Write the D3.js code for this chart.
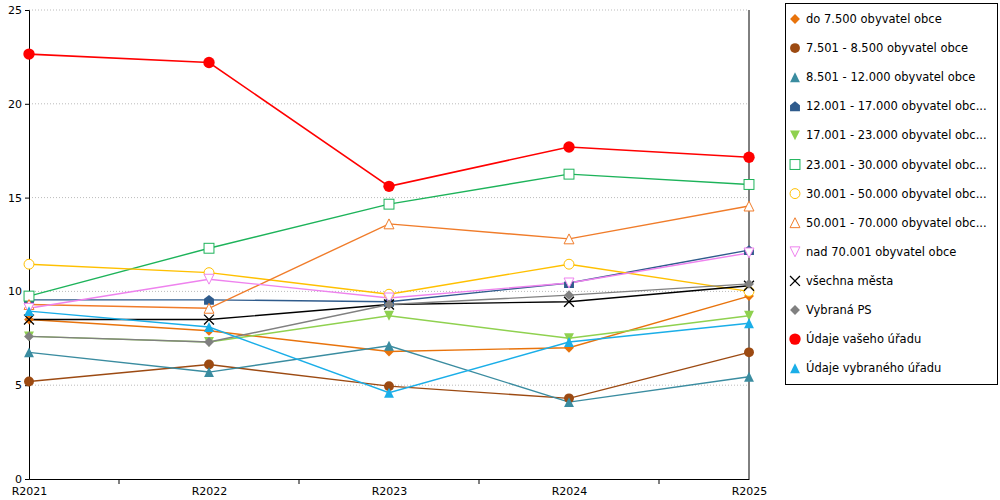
<!DOCTYPE html>
<html><head><meta charset="utf-8">
<script src="https://cdn.jsdelivr.net/npm/d3@7"></script>
<style>body{margin:0;background:#fff;font-family:"DejaVu Sans",sans-serif;}</style>
</head><body><svg id="c" width="1000" height="500"></svg>
<script>
var years = ['R2021', 'R2022', 'R2023', 'R2024', 'R2025'];
var names = ['do 7.500 obyvatel obce', '7.501 - 8.500 obyvatel obce', '8.501 - 12.000 obyvatel obce',
  '12.001 - 17.000 obyvatel obc...', '17.001 - 23.000 obyvatel obc...', '23.001 - 30.000 obyvatel obc...',
  '30.001 - 50.000 obyvatel obc...', '50.001 - 70.000 obyvatel obc...', 'nad 70.001 obyvatel obce',
  'všechna města', 'Vybraná PS', 'Údaje vašeho úřadu', 'Údaje vybraného úřadu'];
var colors = ['#e8730c', '#9c4a12', '#3a8ca0', '#2f5b8c', '#8fd14f', '#1db35a', '#ffc000', '#f07c2a',
  '#ee82ee', '#000000', '#808080', '#ff0000', '#1aaee8'];
var symbols = ['diamond', 'circle', 'triangle', 'house', 'tridown', 'square', 'ocircle', 'otriangle',
  'otridown', 'x', 'diamond', 'bigcircle', 'triangle'];
var values = [
  [8.5, 7.9, 6.8, 7.0, 9.75],
  [5.2, 6.1, 4.95, 4.3, 6.75],
  [6.75, 5.7, 7.1, 4.1, 5.45],
  [9.55, 9.55, 9.45, 10.45, 12.2],
  [7.6, 7.3, 8.7, 7.5, 8.7],
  [9.75, 12.3, 14.65, 16.25, 15.7],
  [11.45, 11.0, 9.85, 11.45, 10.0],
  [9.3, 9.1, 13.6, 12.8, 14.55],
  [9.1, 10.65, 9.65, 10.45, 12.05],
  [8.5, 8.5, 9.3, 9.45, 10.3],
  [7.6, 7.3, 9.3, 9.8, 10.4],
  [22.65, 22.2, 15.6, 17.7, 17.15],
  [8.95, 8.1, 4.6, 7.3, 8.3]
];
var yTicks = [0, 5, 10, 15, 20, 25];

var svg = d3.select('#c');
var x = d3.scalePoint().domain(years).range([29, 749]);
var y = d3.scaleLinear().domain([0, 25]).range([479, 10]);

// grid
svg.selectAll('.grid').data(yTicks.slice(1)).enter().append('line')
  .attr('x1', 29).attr('x2', 749).attr('y1', y).attr('y2', y)
  .attr('stroke', '#bbb').attr('stroke-dasharray', '1,2');

var yAxis = svg.append('g').attr('transform', 'translate(29,0)')
  .call(d3.axisLeft(y).tickValues(yTicks).tickSize(4));
var xAxis = svg.append('g').attr('transform', 'translate(0,479)')
  .call(d3.axisBottom(x).tickSize(0).tickPadding(8));
[yAxis, xAxis].forEach(function(a) {
  a.selectAll('text').attr('font-size', 11).attr('font-family', 'DejaVu Sans').attr('fill', '#000');
  a.select('.domain').attr('stroke', '#000');
});
// midpoint ticks on x
var mids = years.slice(1).map(function(d, i) { return (x(d) + x(years[i])) / 2; });
svg.selectAll('.mt').data(mids).enter().append('line')
  .attr('x1', function(d) { return d; }).attr('x2', function(d) { return d; })
  .attr('y1', 479).attr('y2', 484).attr('stroke', '#000');
svg.append('line').attr('x1', 749).attr('x2', 749).attr('y1', 10).attr('y2', 479).attr('stroke', '#000');

function marker(g, type, color, s) {
  s = s || 1;
  var k = 4.5 * s;
  if (type === 'diamond') g.append('path').attr('d', 'M0,' + -k + 'L' + k + ',0L0,' + k + 'L' + -k + ',0Z').attr('fill', color);
  else if (type === 'circle') g.append('circle').attr('r', k).attr('fill', color);
  else if (type === 'bigcircle') g.append('circle').attr('r', k * 1.15).attr('fill', color);
  else if (type === 'ocircle') g.append('circle').attr('r', k).attr('fill', '#fff').attr('stroke', color);
  else if (type === 'square') g.append('rect').attr('x', -k).attr('y', -k).attr('width', 2 * k).attr('height', 2 * k).attr('fill', '#fff').attr('stroke', color);
  else if (type === 'triangle') g.append('path').attr('d', 'M0,' + -k + 'L' + k + ',' + k + 'L' + -k + ',' + k + 'Z').attr('fill', color);
  else if (type === 'otriangle') g.append('path').attr('d', 'M0,' + -k + 'L' + k + ',' + k + 'L' + -k + ',' + k + 'Z').attr('fill', '#fff').attr('stroke', color);
  else if (type === 'tridown') g.append('path').attr('d', 'M0,' + k + 'L' + k + ',' + -k + 'L' + -k + ',' + -k + 'Z').attr('fill', color);
  else if (type === 'otridown') g.append('path').attr('d', 'M0,' + k + 'L' + k + ',' + -k + 'L' + -k + ',' + -k + 'Z').attr('fill', '#fff').attr('stroke', color);
  else if (type === 'house') g.append('path').attr('d', 'M0,' + -k + 'L' + k + ',-1L' + k + ',' + k + 'L' + -k + ',' + k + 'L' + -k + ',-1Z').attr('fill', color);
  else if (type === 'x') g.append('path').attr('d', 'M' + -k + ',' + -k + 'L' + k + ',' + k + 'M' + k + ',' + -k + 'L' + -k + ',' + k).attr('stroke', color).attr('stroke-width', 1.3);
}

var line = d3.line().x(function(d, i) { return x(years[i]); }).y(function(d) { return y(d); });
values.forEach(function(vals, si) {
  var lw = si === 11 ? 1.6 : 1.4;
  svg.append('path').datum(vals).attr('d', line).attr('fill', 'none')
    .attr('stroke', colors[si]).attr('stroke-width', lw);
});
values.forEach(function(vals, si) {
  vals.forEach(function(v, i) {
    var g = svg.append('g').attr('transform', 'translate(' + x(years[i]) + ',' + y(v) + ')');
    marker(g, symbols[si], colors[si], 1.1);
  });
});

// legend
var lg = svg.append('g');
lg.append('rect').attr('x', 785.5).attr('y', 3.5).attr('width', 212).attr('height', 381)
  .attr('fill', '#fff').attr('stroke', '#000');
names.forEach(function(n, i) {
  var yy = 19 + i * 29.1;
  marker(lg.append('g').attr('transform', 'translate(795,' + yy + ')'), symbols[i], colors[i], 1.1);
  lg.append('text').attr('x', 806).attr('y', yy + 4).attr('font-size', 11.5).text(n);
});
</script></body></html>
